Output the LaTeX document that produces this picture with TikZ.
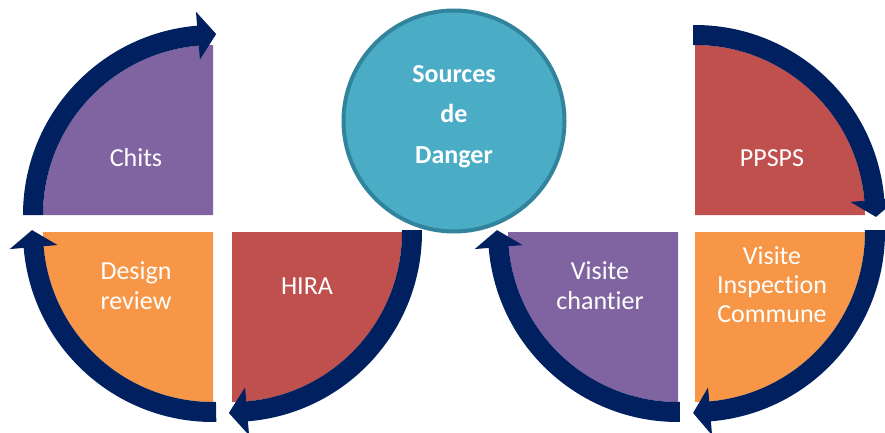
\documentclass[tikz,border=0pt]{standalone}
\usepackage{fontspec}
\setmainfont{Carlito}[Ligatures=NoCommon]
\usetikzlibrary{calc}
\definecolor{ArrowClr}{HTML}{002060}
\definecolor{PurpleClr}{HTML}{8064A2}
\definecolor{OrangeClr}{HTML}{F79646}
\definecolor{RedClr}{HTML}{C0504D}
\definecolor{CircleClr}{HTML}{4BACC6}
\definecolor{CircleLine}{HTML}{31849B}

\tikzset{
  lbl/.style={text=white,align=center,inner sep=0pt,font=\fontsize{26}{30}\selectfont},
  srccircle/.style={circle,fill=CircleClr,draw=CircleLine,line width=4pt,minimum size=221pt,inner sep=0pt},
  srctext/.style={text=white,align=center,inner sep=0pt,font=\fontsize{26}{40.5}\selectfont\bfseries}
}

% #1 colour, #2 centre, #3 start angle, #4 end angle
\newcommand\quarterfill[4]{\fill[#1] #2 -- ($#2+(#3:170)$) arc[start angle=#3,end angle=#4,radius=170] -- cycle;}
% #1 centre, #2 flat end, #3 head base, #4 tip
\newcommand\cyclearrow[4]{\fill[ArrowClr] ($#1+(#2:190)$) arc[start angle=#2,end angle=#3,radius=190]
  -- ($#1+(#3:204)$) -- ($#1+(#4:181)$) -- ($#1+(#3:156)$) -- ($#1+(#3:170)$)
  arc[start angle=#3,end angle=#2,radius=170] -- cycle;}

\begin{document}
\begin{tikzpicture}[x=1pt,y=1pt]
\useasboundingbox (0,0) rectangle (885,432);

\coordinate (chitsC) at (213,217);
\coordinate (designC) at (213,200);
\coordinate (hiraC) at (232,200);
\coordinate (ppspsC) at (695,217);
\coordinate (vicC) at (695,200);
\coordinate (visiteC) at (678,200);

\quarterfill{PurpleClr}{(chitsC)}{90}{180}
\quarterfill{OrangeClr}{(designC)}{180}{270}
\quarterfill{RedClr}{(hiraC)}{270}{360}
\quarterfill{RedClr}{(ppspsC)}{90}{0}
\quarterfill{OrangeClr}{(vicC)}{270}{360}
\quarterfill{PurpleClr}{(visiteC)}{180}{270}

\cyclearrow{(chitsC)}{180}{94.8}{89}
\cyclearrow{(designC)}{271}{184.8}{179.4}
\cyclearrow{(hiraC)}{0.6}{-85.2}{-91}
\cyclearrow{(ppspsC)}{90.6}{4.8}{-0.6}
\cyclearrow{(vicC)}{0.6}{-85.2}{-90.6}
\cyclearrow{(visiteC)}{270.6}{184.8}{179.4}

\node[srccircle] (src) at (454,311) {};
\node[srctext] (srcText) at (454,315.5) {Sources\\de\\Danger};

\node[lbl] (chits) at (136,274) {Chits};
\node[lbl] (design) at (136,146) {Design\\review};
\node[lbl] (hira) at (307,146) {HIRA};
\node[lbl] (ppsps) at (772,274) {PPSPS};
\node[lbl] (visite) at (600,146) {Visite\\chantier};
\node[lbl,font=\fontsize{26}{29}\selectfont] (vic) at (772,147) {Visite\\Inspection\\Commune};
\end{tikzpicture}
\end{document}
